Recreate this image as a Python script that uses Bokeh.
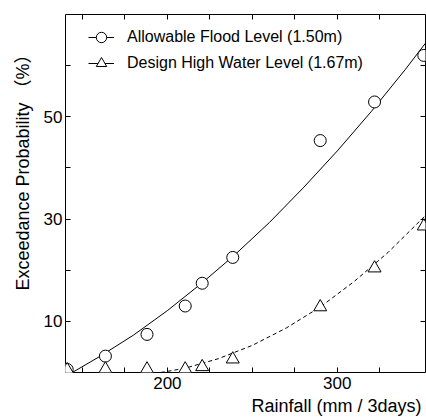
from bokeh.plotting import figure
from bokeh.models import LinearAxis, FixedTicker, Range1d, Legend, LegendItem, Title
from bokeh.embed import file_html
from bokeh.resources import INLINE

FONT = "Liberation Sans, Noto Sans CJK JP"

# ---- data ----
rainfall = [141, 163.5, 188, 210.5, 220.5, 238.5, 290, 322, 351]
allowable_flood = [0.6, 3.2, 7.45, 13.0, 17.45, 22.5, 45.35, 52.9, 62.0]
design_high_water = [0.5, 0.65, 0.65, 0.65, 1.1, 2.6, 12.8, 20.4, 28.6]

trend_x_afl = [144, 160, 180, 200, 220, 240, 260, 280, 300, 320, 340, 352]
trend_afl = [0.0, 3.1, 7.3, 12.1, 17.4, 23.1, 29.3, 36.1, 43.3, 51.0, 59.2, 64.4]
trend_x_dhwl = [196, 210, 230, 250, 270, 290, 310, 330, 352]
trend_dhwl = [0.0, 0.8, 2.7, 5.3, 8.7, 12.8, 17.8, 23.5, 30.7]

x_ticks = [150, 175, 200, 225, 250, 275, 300, 325]
x_tick_labels = ["", "", "200", "", "", "", "300", ""]
y_ticks = [10, 20, 30, 40, 50, 60]
y_tick_labels = ["10", "", "30", "", "50", ""]

series_names = ["Allowable Flood Level (1.50m)", "Design High Water Level (1.67m)"]
x_label = "Rainfall (mm / 3days)"
y_label = "Exceedance Probability （%）"

p = figure(width=426, height=419, output_backend="svg", toolbar_location=None,
           x_range=Range1d(140, 352), y_range=Range1d(0, 70),
           min_border_left=65, min_border_right=1, min_border_top=14, min_border_bottom=47,
           x_axis_location=None, y_axis_location=None)
p.grid.visible = False
p.outline_line_color = "black"
p.outline_line_width = 1
p.outline_line_alpha = 1
p.background_fill_color = "white"
p.border_fill_color = "white"


def style_axis(ax, ticks, labels, show):
    ax.ticker = FixedTicker(ticks=ticks)
    ax.major_label_overrides = {t: (lab if show else "") for t, lab in zip(ticks, labels)}
    ax.axis_line_color = None
    ax.major_tick_in = 5
    ax.major_tick_out = 0
    ax.major_tick_line_color = "black"
    ax.minor_tick_line_color = None
    ax.major_label_text_font = FONT
    ax.major_label_text_font_size = "17px" if show else "0px"
    ax.major_label_text_color = "black"


bottom = LinearAxis()
style_axis(bottom, x_ticks, x_tick_labels, True)
bottom.major_label_standoff = 4
top = LinearAxis()
style_axis(top, x_ticks, x_tick_labels, False)
top.major_label_standoff = 0
left = LinearAxis()
style_axis(left, y_ticks, y_tick_labels, True)
left.major_label_standoff = 3
right = LinearAxis()
style_axis(right, y_ticks, y_tick_labels, False)
right.major_label_standoff = 0
p.add_layout(bottom, "below")
p.add_layout(top, "above")
p.add_layout(left, "left")
p.add_layout(right, "right")

r_afl_line = p.line(trend_x_afl, trend_afl, line_color="black", line_width=1)
r_dhwl_line = p.line(trend_x_dhwl, trend_dhwl, line_color="black", line_width=1, line_dash="4 3")
# legend-only proxy (solid line sample for the triangle series, draws nothing in the plot)
r_proxy = p.line(x=[float("nan")], y=[float("nan")], line_color="black", line_width=1)
r_afl_pts = p.scatter(rainfall, allowable_flood, marker="circle", size=12,
                      fill_color="white", line_color="black", line_width=1)
r_dhwl_pts = p.scatter(rainfall, design_high_water, marker="triangle", size=13,
                       fill_color="white", line_color="black", line_width=1)

legend = Legend(items=[
    LegendItem(label=series_names[0], renderers=[r_afl_line, r_afl_pts]),
    LegendItem(label=series_names[1], renderers=[r_proxy, r_dhwl_pts]),
], location=(23, 296), padding=0, margin=0, spacing=-5,
    glyph_width=26, glyph_height=26, label_standoff=13,
    border_line_color=None, background_fill_alpha=0,
    label_text_font=FONT, label_text_font_size="16px", label_text_color="black")
p.add_layout(legend)

xt = Title(text=x_label, align="right", offset=4, standoff=5,
           text_font=FONT, text_font_size="18px", text_font_style="normal", text_color="black")
p.add_layout(xt, "below")
yt = Title(text=y_label, align="left", offset=82, standoff=15,
           text_font=FONT, text_font_size="18px", text_font_style="normal", text_color="black")
p.add_layout(yt, "left")

open("out.html", "w").write(file_html(p, INLINE))
